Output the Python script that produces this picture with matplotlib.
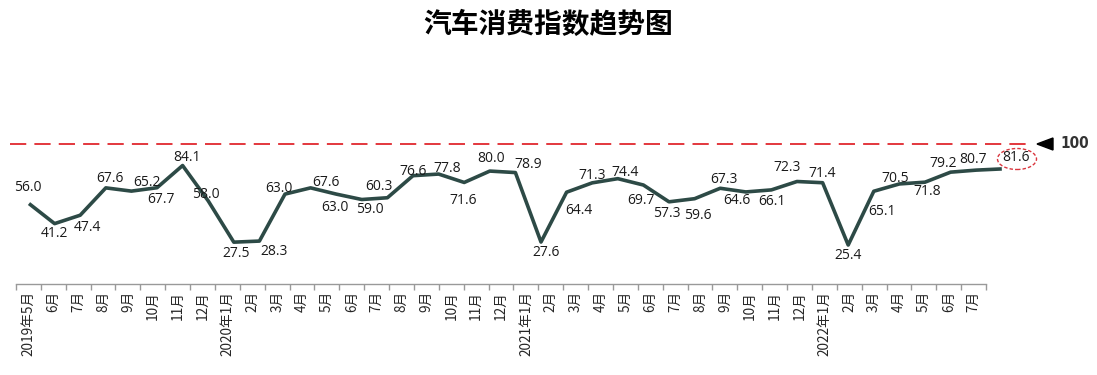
import matplotlib
matplotlib.use('Agg')
import matplotlib.pyplot as plt
import numpy as np
from matplotlib.patches import Ellipse, Polygon

months = ['2019年5月', '6月', '7月', '8月', '9月', '10月', '11月', '12月',
          '2020年1月', '2月', '3月', '4月', '5月', '6月', '7月', '8月', '9月', '10月', '11月', '12月',
          '2021年1月', '2月', '3月', '4月', '5月', '6月', '7月', '8月', '9月', '10月', '11月', '12月',
          '2022年1月', '2月', '3月', '4月', '5月', '6月', '7月']
values = [56.0, 41.2, 47.4, 67.6, 65.2, 67.7, 84.1, 58.0,
          27.5, 28.3, 63.0, 67.6, 63.0, 59.0, 60.3, 76.6, 77.8, 71.6, 80.0, 78.9,
          27.6, 64.4, 71.3, 74.4, 69.7, 57.3, 59.6, 67.3, 64.6, 66.1, 72.3, 71.4,
          25.4, 65.1, 70.5, 71.8, 79.2, 80.7, 81.6]
reference_level = 100

# label offsets in pixels (dx right, dy down) - layout only
label_dx = [-1, 0, 7, 4, 16, 4, 4, -2,
            2, 15, -6, 15, -1, 8, -8, 0, 9, -1, 1, 13,
            5, 12, 0, 7, -2, -2, 3, 4, -9, 1, -10, 0,
            0, 8, -4, 2, -7, -3, 14]
label_dy = [-16, 10, 12, -9, -9, 12, -8, -6,
            11, 10, -6, -5, 13, 10, -11, -4, -6, 18, -13, -8,
            10, 18, -7, -6, 15, 12, 17, -9, 9, 12, -14, -9,
            10, 20, -5, 9, -9, -11, -11]

W, H = 1097, 375
def fx(px): return px / W
def fy(py): return 1 - py / H

fig = plt.figure(figsize=(W / 100, H / 100), dpi=100)

# category axis
ax = fig.add_axes([fx(16), fy(284), fx(986) - fx(16), fy(100) - fy(284)])
ax.patch.set_visible(False)
n = len(months)
ax.set_xlim(-0.5, n - 0.5)
ax.set_xticks(np.arange(-0.5, n, 1.0))
ax.set_xticklabels([])
ax.set_xticks(np.arange(n), minor=True)
ax.set_xticklabels(months, minor=True, rotation=90, fontsize=9.8,
                   family=['Noto Sans CJK SC', 'DejaVu Sans'], color='#262626')
ax.tick_params(axis='x', which='major', length=4, color='#999999', width=1)
ax.tick_params(axis='x', which='minor', length=0, pad=5)
ax.set_yticks([])
for s in ['left', 'right', 'top']:
    ax.spines[s].set_visible(False)
ax.spines['bottom'].set_color('#999999')
ax.spines['bottom'].set_linewidth(1)

# line axis
ax2 = fig.add_axes([0, fy(284), 1, fy(100) - fy(284)])
ax2.patch.set_visible(False)
step = 25.6
x0 = -29 / step
ax2.set_xlim(x0, x0 + W / step)
ax2.set_ylim(-3.4, -3.4 + 184 / 1.354)
ax2.axis('off')
x = np.arange(len(values))
ax2.plot(x, values, color='#2D4A46', lw=2.6, solid_joinstyle='round', solid_capstyle='butt')
ax2.axhline(reference_level, xmin=10 / W, xmax=1032 / W, color='#E0282E', lw=1.3,
            ls=(0, (9, 4.5)))
for i, v in enumerate(values):
    ax2.annotate(f'{v:.1f}', (i, v), xytext=(label_dx[i], -label_dy[i]),
                 textcoords='offset pixels', ha='center', va='center',
                 fontsize=10, family=['Open Sans', 'DejaVu Sans'], color='#1a1a1a')

fig.add_artist(Ellipse((fx(1017), fy(159)), 39 / W, 21 / H, transform=fig.transFigure,
                       fill=False, ec='#D9363E', ls=(0, (2.5, 1.5)), lw=1))
fig.add_artist(Polygon([[fx(1037), fy(144)], [fx(1053), fy(138)], [fx(1053), fy(150)]],
                       closed=True, transform=fig.transFigure, color='black'))
fig.text(fx(1075), fy(143), str(reference_level), ha='center', va='center', fontsize=11,
         fontweight='bold', color='#333333', fontstretch='condensed',
         family=['Liberation Sans Narrow', 'DejaVu Sans'])

fig.text(0.5, fy(25), '汽车消费指数趋势图', ha='center', va='center', fontsize=20,
         fontweight='bold', family=['Noto Sans CJK SC', 'DejaVu Sans'])

fig.savefig('out.png', dpi=100)
